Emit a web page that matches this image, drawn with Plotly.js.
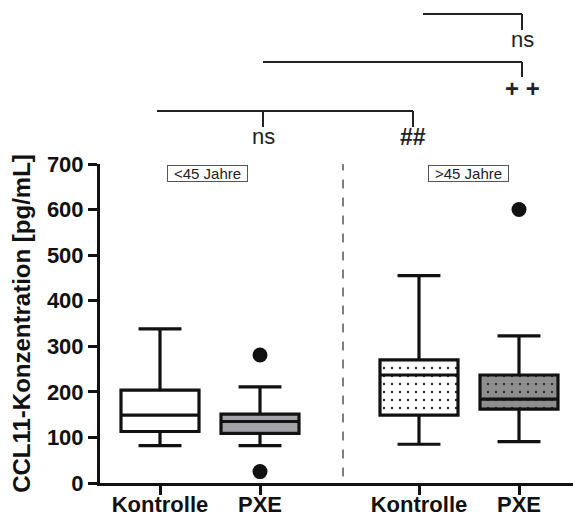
<!DOCTYPE html>
<html>
<head>
<meta charset="utf-8">
<script src="https://cdn.plot.ly/plotly-3.0.1.min.js"></script>
<style>html,body{margin:0;padding:0;background:#fff;}#chart{width:573px;height:520px;}</style>
</head>
<body>
<div id="chart"></div>
<script>
// Categories and positions
const categories = ["Kontrolle", "PXE", "Kontrolle", "PXE"];
const groupPositions = [1, 2, 3.59, 4.59];
const ageGroups = ["<45 Jahre", ">45 Jahre"];
const ageGroupCenters = [1.47, 4.08];

// Box statistics (pg/mL)
const lowerWhisker = [82, 82, 85, 91];
const q1 = [113, 109, 149, 162];
const median = [149, 135, 237, 184];
const q3 = [204, 151, 270, 237];
const upperWhisker = [338, 211, 455, 323];

// Outliers
const outlierX = [2, 2, 4.59];
const outlierY = [281, 25, 600];

// Fills
const fillColors = ["#ffffff", "#a3a3a8", "#ffffff", "#8e8e8e"];
const fillPatterns = ["", "", ".", "."];

// Significance brackets (x in data units)
const brackets = [
  {x0: 3.63, x1: 4.62, level: 0, drops: [4.62], labels: [{x: 4.62, text: "ns", bold: false, size: 22}]},
  {x0: 2.03, x1: 4.62, level: 1, drops: [4.62], labels: [{x: 4.62, text: "+ +", bold: true, size: 24}]},
  {x0: 0.97, x1: 3.53, level: 2, drops: [2.03, 3.53], labels: [{x: 2.03, text: "ns", bold: false, size: 22}, {x: 3.53, text: "##", bold: true, size: 23}]}
];
const bracketLineY = [1.470, 1.320, 1.166];
const bracketDropY = [1.420, 1.273, 1.116];
const bracketTextY = [1.389, 1.238, 1.085];
const dividerX = 2.83;

const FONT = "Liberation Sans, Arial, sans-serif";

const boxBars = groupPositions.map((x, i) => ({
  type: "bar",
  x: [x],
  base: [q1[i]],
  y: [q3[i] - q1[i]],
  width: 0.78,
  marker: {
    color: fillColors[i],
    line: {width: 0},
    pattern: {shape: fillPatterns[i], bgcolor: fillColors[i], fgcolor: "#2a2a2a", fgopacity: 1, fillmode: "replace", size: 8, solidity: 0.07}
  },
  hoverinfo: "skip",
  showlegend: false
}));

const boxes = {
  type: "box",
  x: groupPositions,
  q1: q1,
  median: median,
  q3: q3,
  lowerfence: lowerWhisker,
  upperfence: upperWhisker,
  width: 0.78,
  whiskerwidth: 0.55,
  fillcolor: "rgba(0,0,0,0)",
  line: {color: "#111111", width: 3.2},
  boxpoints: false,
  showlegend: false
};

const outliers = {
  type: "scatter",
  mode: "markers",
  x: outlierX,
  y: outlierY,
  marker: {color: "#111111", size: 15},
  cliponaxis: false,
  showlegend: false
};

const shapes = [{
  type: "line", xref: "x", yref: "paper", x0: dividerX, x1: dividerX, y0: 0.02, y1: 1,
  line: {color: "#555555", width: 1.5, dash: "dash"}
}];
const annotations = [];
brackets.forEach(b => {
  shapes.push({type: "line", xref: "x", yref: "paper", x0: b.x0, x1: b.x1,
    y0: bracketLineY[b.level], y1: bracketLineY[b.level], line: {color: "#222", width: 2}});
  b.drops.forEach(d => shapes.push({type: "line", xref: "x", yref: "paper", x0: d, x1: d,
    y0: bracketLineY[b.level], y1: bracketDropY[b.level], line: {color: "#222", width: 2}}));
  b.labels.forEach(l => annotations.push({xref: "x", yref: "paper", x: l.x, y: bracketTextY[b.level],
    text: l.bold ? "<b>" + l.text + "</b>" : l.text, showarrow: false,
    font: {family: FONT, size: l.size, color: "#222"}, xanchor: "center", yanchor: "middle"}));
});
ageGroups.forEach((g, i) => annotations.push({
  xref: "x", yref: "paper", x: ageGroupCenters[i], y: 0.97, text: g,
  showarrow: false, font: {family: FONT, size: 15, color: "#222"},
  bordercolor: "#555", borderwidth: 1, borderpad: 1, bgcolor: "#fff",
  width: 77, height: 13, xanchor: "center", yanchor: "middle"
}));

const layout = {
  width: 573, height: 520,
  margin: {l: 100, r: 0, t: 164, b: 37},
  paper_bgcolor: "#fff", plot_bgcolor: "#fff",
  font: {family: FONT, color: "#111"},
  showlegend: false,
  barmode: "overlay",
  xaxis: {
    range: [0.4, 5.13], tickvals: groupPositions, ticktext: categories,
    showline: true, linewidth: 3, linecolor: "#111", ticks: "outside", ticklen: 9, tickwidth: 3, tickcolor: "#111",
    ticklabelstandoff: -9,
    showgrid: false, zeroline: false, tickfont: {family: FONT, size: 22, color: "#111", weight: "bold"},
    fixedrange: true, automargin: false
  },
  yaxis: {
    range: [0, 700], tickvals: [0, 100, 200, 300, 400, 500, 600, 700],
    showline: true, linewidth: 3, linecolor: "#111", ticks: "outside", ticklen: 9, tickwidth: 3, tickcolor: "#111",
    showgrid: false, zeroline: false, tickfont: {family: FONT, size: 22, color: "#111", weight: "bold"},
    title: {text: "CCL11-Konzentration [pg/mL]", font: {family: FONT, size: 24, color: "#111", weight: "bold"}, standoff: 10},
    fixedrange: true, automargin: false
  },
  shapes: shapes,
  annotations: annotations
};

Plotly.newPlot("chart", boxBars.concat([boxes, outliers]), layout, {staticPlot: true, displayModeBar: false});
</script>
</body>
</html>
